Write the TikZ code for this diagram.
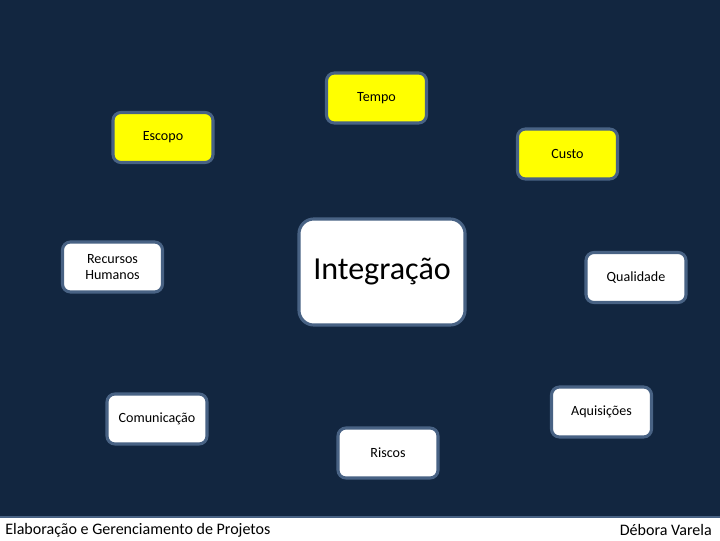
\documentclass[tikz,border=0pt]{standalone}
\usepackage{fontspec}
\setmainfont{Carlito}
\usetikzlibrary{positioning}
\definecolor{slidebg}{RGB}{18, 38, 64}
\definecolor{boxborder}{RGB}{72, 98, 132}
\definecolor{boxyellow}{RGB}{255, 255, 0}

\begin{document}
\begin{tikzpicture}[
    x=0.025cm, y=-0.025cm,
    area/.style={rectangle, draw=boxborder, line width=2.2pt, rounded corners=0.2cm, minimum width=2.5cm, minimum height=1.25cm, align=center, font=\fontsize{10}{12}\selectfont},
    hot/.style={area, fill=boxyellow},
    cold/.style={area, fill=white},
    foot/.style={inner sep=0pt, font=\fontsize{11.4}{13}\selectfont},
]
    \useasboundingbox (0,0) rectangle (720,540);

    % Background
    \fill[slidebg] (0,0) rectangle (720,540);

    % Central area
    \node[cold, rounded corners=0.37cm, minimum width=4.15cm, minimum height=2.65cm, font=\fontsize{22.8}{27}\selectfont] (integ) at (382, 272) {Integração};

    % Yellow areas
    \node[hot] (tempo) at (376.5, 98) {Tempo};
    \node[hot] (escopo) at (163, 137.5) {Escopo};
    \node[hot] (custo) at (567.5, 154) {Custo};

    % White areas
    \node[cold] (rh) at (112.5, 267) {Recursos\\Humanos};
    \node[cold] (qualid) at (636, 277.5) {Qualidade};
    \node[cold] (aquis) at (601.5, 412) {Aquisições};
    \node[cold] (comun) at (157, 419) {Comunicação};
    \node[cold] (riscos) at (388, 453) {Riscos};

    % Footer
    \draw[fill=white, draw=boxborder, line width=1.5pt] (-2, 517) rectangle (722, 542);
    \node[foot, anchor=west] (curso) at (5, 530) {Elaboração e Gerenciamento de Projetos};
    \node[foot, anchor=east] (autora) at (712, 530) {Débora Varela};
\end{tikzpicture}
\end{document}
